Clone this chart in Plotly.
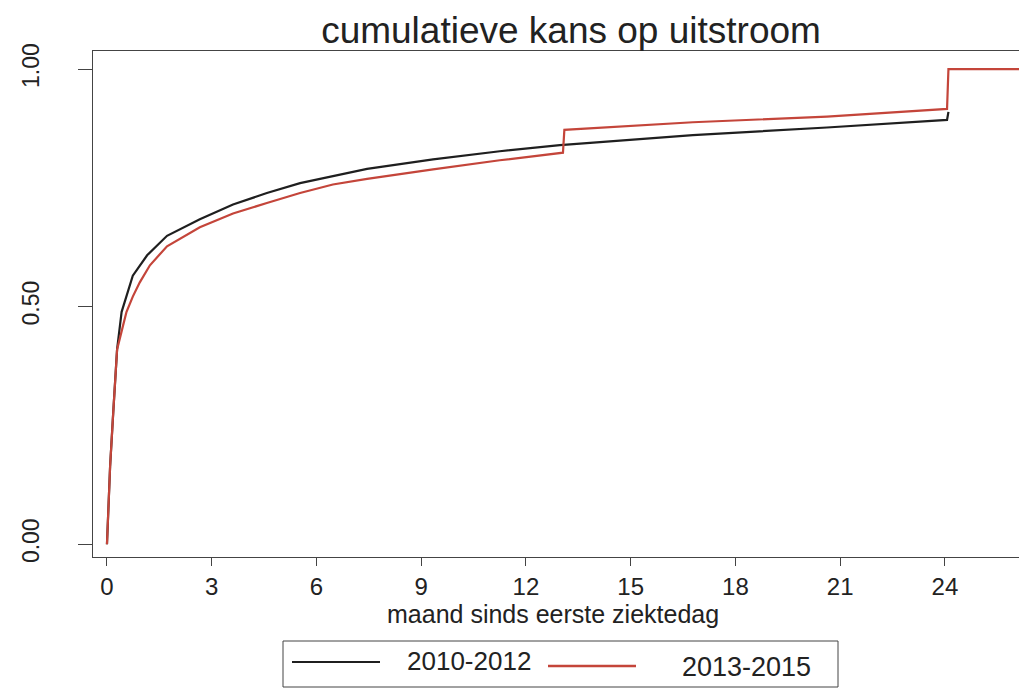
import plotly.graph_objects as go

# ---- data ----
months_2010_2012 = [0, 0.09, 0.18, 0.26, 0.29, 0.37, 0.42, 0.74, 1.15, 1.72, 2.66, 3.61,
                    4.58, 5.53, 6.47, 7.45, 9.34, 11.25, 12.97, 13.17, 16.78, 20.62, 24.06, 24.1]
cum_2010_2012 = [0, 0.164, 0.278, 0.369, 0.41, 0.459, 0.489, 0.565, 0.608, 0.649, 0.684, 0.715,
                 0.739, 0.760, 0.774, 0.790, 0.810, 0.827, 0.840, 0.841, 0.861, 0.877, 0.893, 0.91]

months_2013_2015 = [0, 0.09, 0.18, 0.26, 0.29, 0.46, 0.56, 0.74, 0.94, 1.23, 1.72, 2.66, 3.61,
                    4.58, 5.53, 6.47, 7.45, 9.34, 11.25, 13.06, 13.1, 16.78, 20.62, 24.06, 24.1, 26.23]
cum_2013_2015 = [0, 0.164, 0.278, 0.369, 0.41, 0.46, 0.489, 0.521, 0.551, 0.587, 0.627, 0.667, 0.696,
                 0.718, 0.739, 0.757, 0.769, 0.789, 0.808, 0.824, 0.872, 0.888, 0.900, 0.916, 1.0, 1.0]

series_names = ["2010-2012", "2013-2015"]
series_colors = ["#1f1f1f", "#c4453a"]
x_ticks = [0, 3, 6, 9, 12, 15, 18, 21, 24]
y_ticks = [0, 0.5, 1.0]

title_text = "cumulatieve kans op uitstroom"
x_title = "maand sinds eerste ziektedag"

# ---- layout geometry (window pixels; page body has an 8px margin) ----
OFF = 8
W, H = 1027, 688
L, R, T, B = 93, 1027, 51, 557   # plot area in window pixels


def px(x):
    return (x - L) / (R - L)


def py(y):
    return (B - y) / (B - T)


FONT = "Liberation Sans, Arial, sans-serif"

fig = go.Figure()
fig.add_trace(go.Scatter(x=months_2010_2012, y=cum_2010_2012, mode="lines",
                         name=series_names[0], line=dict(color=series_colors[0], width=2.2)))
fig.add_trace(go.Scatter(x=months_2013_2015, y=cum_2013_2015, mode="lines",
                         name=series_names[1], line=dict(color=series_colors[1], width=2.2)))

fig.update_layout(
    width=W, height=H,
    margin=dict(l=L - OFF, r=W - (R - OFF), t=T - OFF, b=H - (B - OFF), pad=0,
                autoexpand=False),
    paper_bgcolor="white", plot_bgcolor="white",
    showlegend=False,
    font=dict(family=FONT, color="#222222"),
    title=dict(text=title_text, font=dict(size=37, color="#222222", family=FONT),
               xref="paper", x=px(571), xanchor="center",
               yref="container", y=1 - (30 - OFF) / H, yanchor="middle"),
)

fig.update_xaxes(
    range=[-0.40, 26.35], tickvals=x_ticks, ticks="outside", ticklen=8, tickwidth=1,
    tickcolor="#444444", showline=True, linecolor="#444444", linewidth=1, mirror=True,
    showgrid=False, zeroline=False, tickfont=dict(size=24, color="#222222"),
    automargin=False,
)
fig.update_yaxes(
    range=[-0.027, 1.038], tickvals=y_ticks, tickformat=".2f", ticks="outside", ticklen=14,
    tickwidth=1, tickcolor="#444444", showline=True, linecolor="#444444", linewidth=1,
    showgrid=False, zeroline=False, tickangle=-90, ticklabelstandoff=30,
    tickfont=dict(size=23, color="#222222"), automargin=False,
)

# ---- custom legend (box, line samples, labels) and x-axis title ----
shapes = [
    dict(type="rect", xref="paper", yref="paper", x0=px(283), x1=px(838), y0=py(687), y1=py(641),
         line=dict(color="#444444", width=1), fillcolor="rgba(0,0,0,0)"),
    dict(type="line", xref="paper", yref="paper", x0=px(292), x1=px(380), y0=py(662), y1=py(662),
         line=dict(color=series_colors[0], width=2)),
    dict(type="line", xref="paper", yref="paper", x0=px(548), x1=px(636), y0=py(666), y1=py(666),
         line=dict(color=series_colors[1], width=2.5)),
]
annotations = [
    dict(text=x_title, xref="paper", yref="paper", x=px(553), y=py(614),
         xanchor="center", yanchor="middle", showarrow=False,
         font=dict(size=25, color="#222222", family=FONT)),
    dict(text=series_names[0], xref="paper", yref="paper", x=px(405), y=py(661),
         xanchor="left", yanchor="middle", showarrow=False,
         font=dict(size=26, color="#222222", family=FONT)),
    dict(text=series_names[1], xref="paper", yref="paper", x=px(680), y=py(667),
         xanchor="left", yanchor="middle", showarrow=False,
         font=dict(size=27, color="#222222", family=FONT)),
]
fig.update_layout(shapes=shapes, annotations=annotations)

fig.write_html("out.html")
